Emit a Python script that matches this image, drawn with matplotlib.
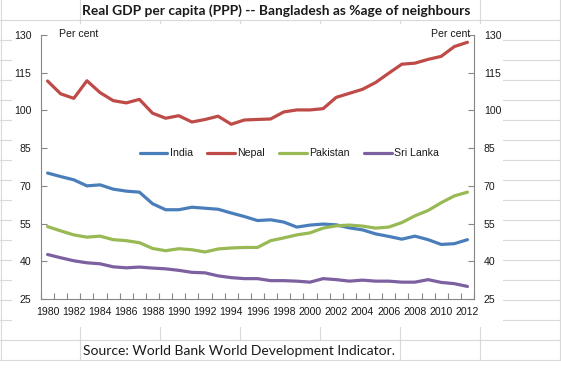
import matplotlib
matplotlib.use("Agg")
import matplotlib.pyplot as plt
from matplotlib.patches import Rectangle
from matplotlib.ticker import FixedLocator

# data (Bangladesh GDP per capita as % of each neighbour)
years = list(range(1980, 2013))
india = [75.1, 73.7, 72.4, 70.0, 70.4, 68.7, 67.9, 67.5, 62.9, 60.5, 60.5,
         61.5, 61.1, 60.7, 59.2, 57.8, 56.2, 56.5, 55.6, 53.6, 54.4, 54.8,
         54.5, 53.3, 52.5, 50.9, 49.9, 48.8, 50.0, 48.6, 46.7, 47.0, 48.6]
nepal = [111.7, 106.6, 104.8, 111.8, 107.1, 103.9, 103.0, 104.4, 98.9, 96.9,
         97.9, 95.4, 96.4, 97.7, 94.5, 96.2, 96.4, 96.6, 99.4, 100.2, 100.2,
         100.7, 105.2, 106.8, 108.4, 111.1, 114.8, 118.4, 118.8, 120.3, 121.5,
         125.4, 127.1]
pakistan = [53.8, 52.1, 50.5, 49.6, 50.0, 48.6, 48.2, 47.4, 45.1, 44.2, 45.0,
            44.6, 43.7, 44.9, 45.3, 45.5, 45.5, 48.2, 49.3, 50.5, 51.3, 53.2,
            54.1, 54.4, 54.0, 53.2, 53.6, 55.4, 58.1, 60.2, 63.3, 66.0, 67.5]
sri_lanka = [42.7, 41.4, 40.2, 39.4, 39.0, 37.8, 37.4, 37.7, 37.3, 37.0, 36.4,
             35.6, 35.4, 34.2, 33.5, 33.1, 33.1, 32.3, 32.3, 32.1, 31.7, 33.1,
             32.7, 32.1, 32.5, 32.1, 32.1, 31.7, 31.7, 32.7, 31.6, 31.1, 30.0]

series = [("India", india, "#4a7ebb"),
          ("Nepal", nepal, "#be4b48"),
          ("Pakistan", pakistan, "#98b954"),
          ("Sri Lanka", sri_lanka, "#7d60a0")]

y_ticks = [25, 40, 55, 70, 85, 100, 115, 130]

W, H = 561, 388
fig = plt.figure(figsize=(W / 100, H / 100), dpi=100)
fig.patch.set_facecolor("white")

# spreadsheet cells behind the chart, in pixel coords
bg = fig.add_axes([0, 0, 1, 1], zorder=0)
bg.set_xlim(0, W)
bg.set_ylim(H, 0)
bg.axis("off")
grid = "#d9d9d9"
for yy in range(20, 361, 20):
    bg.plot([0, 560], [yy, yy], color=grid, lw=0.8)
for xx in [0.5, 80, 160, 240, 320, 400, 480, 560]:
    bg.plot([xx, xx], [20, 340], color=grid, lw=0.8)
for xx in [0.5, 80, 480, 560]:
    bg.plot([xx, xx], [0, 20], color=grid, lw=0.8)
for xx in [0.5, 80, 400, 480, 560]:
    bg.plot([xx, xx], [340, 360], color=grid, lw=0.8)
# white chart area hides the cells
bg.add_patch(Rectangle((12, 24), 491, 303, facecolor="white", edgecolor="none", zorder=5))

bg.text(276, 11, "Real GDP per capita (PPP) -- Bangladesh as %age of neighbours",
        ha="center", va="center", fontsize=9.9, fontweight="bold",
        family="Lato", color="#1a1a1a", zorder=6)
bg.text(83, 351, "Source: World Bank World Development Indicator.",
        ha="left", va="center", fontsize=10.0, family="Lato",
        color="#1a1a1a", zorder=6)

# the chart
ax = fig.add_axes([41 / W, 1 - 299 / H, 433 / W, 264 / H], zorder=2)
ax.patch.set_alpha(0)
for name, vals, col in series:
    ax.plot(years, vals, color=col, lw=2.3, label=name, solid_capstyle="round")

ax.set_xlim(1979.5, 2012.5)
ax.set_ylim(25, 130)
ax.set_yticks(y_ticks)
ax.set_xticks(years[::2])
ax.xaxis.set_minor_locator(FixedLocator([y - 0.5 for y in years] + [2012.5]))

spine_col = "#868686"
ax.spines["top"].set_visible(False)
for s in ["left", "right", "bottom"]:
    ax.spines[s].set_color(spine_col)
    ax.spines[s].set_linewidth(0.8)

lab = dict(fontsize=7.6, family="Liberation Sans", color="#1a1a1a")
ax.tick_params(axis="y", direction="in", length=4, width=0.8, color=spine_col,
               left=True, right=True, labelleft=True, labelright=True, pad=7,
               labelsize=7.6, labelcolor="#1a1a1a")
ax.tick_params(axis="x", which="major", length=0, pad=6, labelsize=7.6,
               labelcolor="#1a1a1a")
ax.tick_params(axis="x", which="minor", direction="in", length=4, width=0.8,
               color=spine_col)
for t in ax.get_xticklabels() + ax.yaxis.get_majorticklabels():
    t.set_family("Liberation Sans")

fig.text(59 / W, 1 - 34 / H, "Per cent", ha="left", va="center", **lab)
fig.text(470 / W, 1 - 34 / H, "Per cent", ha="right", va="center", **lab)

leg = ax.legend(loc="center", bbox_to_anchor=(289.5 / W, 1 - 153.5 / H),
                bbox_transform=fig.transFigure, ncol=4, frameon=False,
                handlelength=2.6, handletextpad=0.25, columnspacing=1.35,
                prop={"family": "Liberation Sans", "size": 7.6})
for t in leg.get_texts():
    t.set_color("#1a1a1a")

fig.savefig("out.png", dpi=100, facecolor="white")
